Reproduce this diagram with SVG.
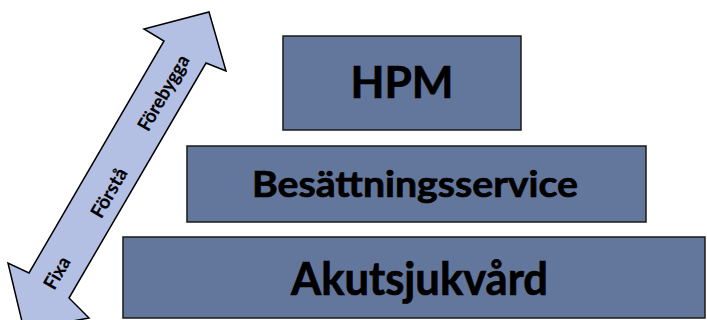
<svg xmlns="http://www.w3.org/2000/svg" width="707" height="320" viewBox="0 0 707 320">
  <style>
    .box { fill: #63769c; stroke: #1a1a1a; stroke-width: 1.5; }
    .big { font-family: Lato, "Open Sans", "Liberation Sans", sans-serif; font-weight: bold; fill: #000; stroke: #000; stroke-width: 0.7; text-anchor: middle; }
    .arrowtxt { font-family: Lato, "Open Sans", "Liberation Sans", sans-serif; font-weight: bold; font-size: 19px; fill: #000; stroke: #000; stroke-width: 0.2; text-anchor: middle; }
    .arrow { fill: #b4bfe4; stroke: #000; stroke-width: 1.5; stroke-linejoin: miter; }
  </style>
  <rect width="707" height="320" fill="#ffffff"/>
  <g id="connectors">
    <g id="arrow-fixa-forebygga">
      <polygon class="arrow" points="209,12 226,71 206,63 69,298 89,318 24,330 8,263 29,273 164,41 144,29"/>
      <text class="arrowtxt" transform="translate(57,273) rotate(-60)" y="6.5" textLength="34" lengthAdjust="spacingAndGlyphs">Fixa</text>
      <text class="arrowtxt" transform="translate(109,193) rotate(-60)" y="6.5" textLength="54" lengthAdjust="spacingAndGlyphs">Förstå</text>
      <text class="arrowtxt" transform="translate(163.5,93) rotate(-60)" y="6.5" textLength="84" lengthAdjust="spacingAndGlyphs">Förebygga</text>
    </g>
  </g>
  <g id="node-hpm">
    <rect class="box" x="283" y="36" width="238" height="94"/>
    <text class="big" x="402" y="98" font-size="44" textLength="103" lengthAdjust="spacingAndGlyphs">HPM</text>
  </g>
  <g id="node-besattningsservice">
    <rect class="box" x="187" y="146" width="459" height="76"/>
    <text class="big" x="415" y="197" font-size="36" textLength="326" lengthAdjust="spacingAndGlyphs">Besättningsservice</text>
  </g>
  <g id="node-akutsjukvard">
    <rect class="box" x="123" y="237" width="582" height="81"/>
    <text class="big" x="419.5" y="295" font-size="45" textLength="257" lengthAdjust="spacingAndGlyphs">Akutsjukvård</text>
  </g>
</svg>
